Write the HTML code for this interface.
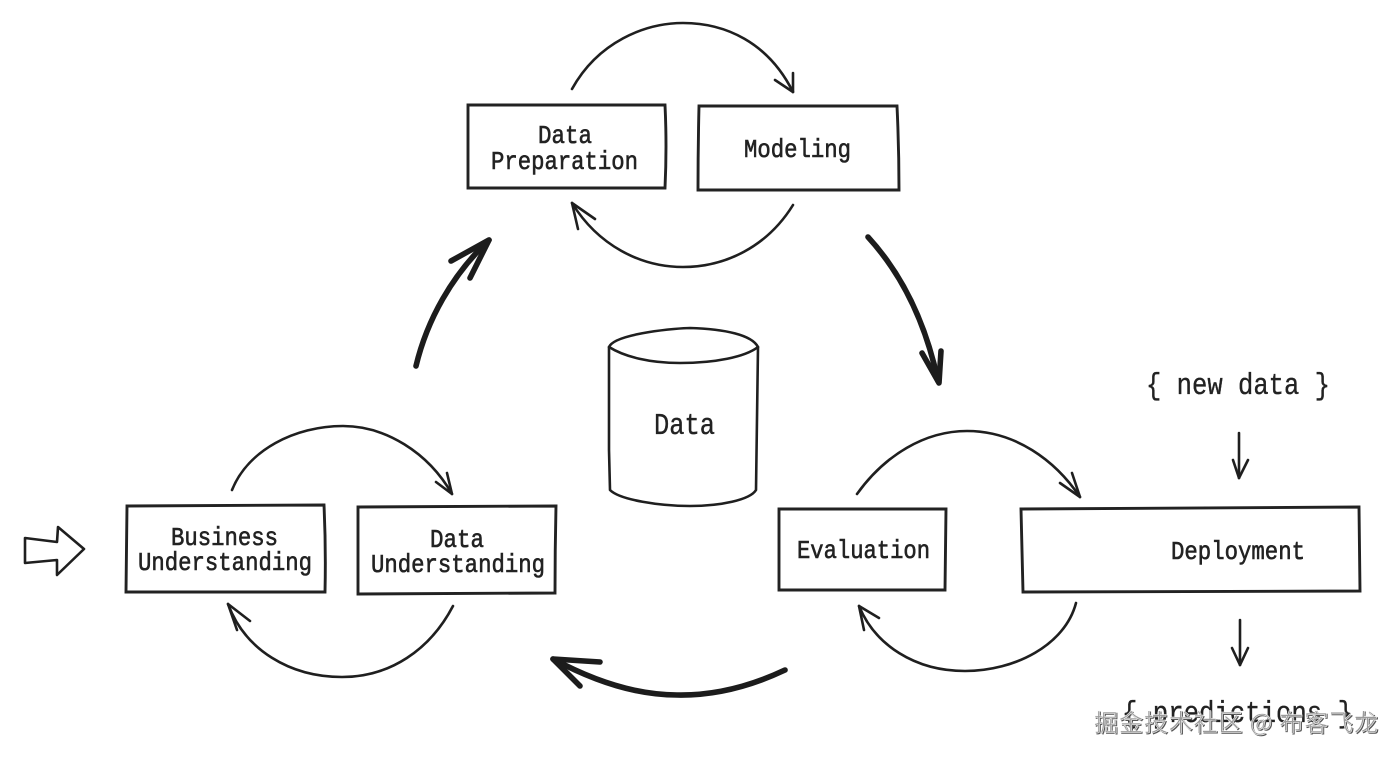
<!DOCTYPE html>
<html>
<head>
<meta charset="utf-8">
<style>
html,body{margin:0;padding:0;background:#fff;width:1400px;height:759px;overflow:hidden}
svg{display:block}
text{font-family:"Liberation Mono","Noto Sans CJK SC",monospace;fill:#222;text-anchor:start}
.t{font-size:26px;stroke:#222;stroke-width:.6px}
.b{font-size:31px;stroke:#222;stroke-width:.35px}
.s{fill:none;stroke:#1f1f1f;stroke-width:2.6;stroke-linecap:round;stroke-linejoin:round}
.r{fill:none;stroke:#222;stroke-width:2.9;stroke-linecap:butt;stroke-linejoin:miter}
.k{fill:none;stroke:#1c1c1c;stroke-width:5.6;stroke-linecap:round;stroke-linejoin:round}
.w{font-family:"Noto Sans CJK SC","WenQuanYi Zen Hei",sans-serif;font-size:24px;fill:#9a9a9a;stroke:#fff;stroke-width:.5px;filter:drop-shadow(1px 1px 0 #555)}
</style>
</head>
<body>
<svg width="1400" height="759" viewBox="0 0 1400 759" xmlns="http://www.w3.org/2000/svg">
<rect width="1400" height="759" fill="#fff"/>

<!-- boxes -->
<path class="r" d="M468 105L665 105Q667 146 665 188L468 188Z"/>
<path class="r" d="M699 106L897 106Q899 148 899 190L698 190Q698 148 699 106Z"/>
<path class="r" d="M127 506L324 505Q326 548 325 592L126 592Z"/>
<path class="r" d="M358 507L556 506Q555 550 555 593L358 594Z"/>
<path class="r" d="M779 509L946 509L945 590L779 590Z"/>
<path class="r" d="M1021 509L1359 507L1360 591L1023 592Z"/>

<!-- cylinder -->
<path class="s" d="M609 347C615 333 680 328 690 328C725 329 752 335 758 347C745 357 715 363 680 363C650 363 625 357 609 347Z"/>
<path class="s" d="M609 347L609 450L610 490C620 500 660 506 690 506C720 506 750 500 756 490L758 347"/>

<!-- thin loops -->
<path class="s" d="M572 89C598 42 645 23 683 23C725 23 768 42 793 92"/>
<path class="s" d="M775 80L793 92L793 73"/>
<path class="s" d="M793 205C767 247 725 267 683 267C640 267 598 245 572 203"/>
<path class="s" d="M595 219L572 203L578 229"/>

<path class="s" d="M232 490C248 450 295 426 343 426C385 426 428 452 452 494"/>
<path class="s" d="M436 482L452 494L447 473"/>
<path class="s" d="M453 606C430 650 390 677 342 677C290 677 245 650 228 604"/>
<path class="s" d="M250 621L228 604L237 630"/>

<path class="s" d="M857 494C885 455 925 431 967 431C1015 431 1055 460 1080 497"/>
<path class="s" d="M1060 483L1080 497L1072 473"/>
<path class="s" d="M1076 603C1065 645 1015 671 965 671C915 671 875 645 859 606"/>
<path class="s" d="M879 618L859 606L864 630"/>

<!-- thick arrows -->
<path class="k" d="M416 366C427 320 452 275 489 240"/>
<path class="k" d="M451 261L489 240L470 278"/>
<path class="k" d="M868 237C900 272 925 320 938 381"/>
<path class="k" d="M922 353L939 383L941 351"/>
<path class="k" d="M785 670Q730 696 677 695Q620 695 553 659"/>
<path class="k" d="M600 662L553 659L580 686"/>

<!-- thin straight arrows -->
<path class="s" d="M1239 433L1239 478"/>
<path class="s" d="M1233 460L1239 478L1248 460"/>
<path class="s" d="M1240 620L1240 665"/>
<path class="s" d="M1232 648L1240 665L1248 648"/>

<!-- hollow arrow -->
<path class="s" d="M25 538L57 542L58 527L84 549L57 575L57 560L25 563Z"/>

<!-- labels -->
<text class="t" x="538" y="143" textLength="54" lengthAdjust="spacingAndGlyphs">Data</text>
<text class="t" x="491" y="169" textLength="147" lengthAdjust="spacingAndGlyphs">Preparation</text>
<text class="t" x="744" y="157" textLength="107" lengthAdjust="spacingAndGlyphs">Modeling</text>
<text class="t" x="171" y="545" textLength="107" lengthAdjust="spacingAndGlyphs">Business</text>
<text class="t" x="138" y="570" textLength="174" lengthAdjust="spacingAndGlyphs">Understanding</text>
<text class="t" x="430" y="547" textLength="54" lengthAdjust="spacingAndGlyphs">Data</text>
<text class="t" x="371" y="572" textLength="174" lengthAdjust="spacingAndGlyphs">Understanding</text>
<text class="t" x="797" y="558" textLength="133" lengthAdjust="spacingAndGlyphs">Evaluation</text>
<text class="t" x="1171" y="559" textLength="134" lengthAdjust="spacingAndGlyphs">Deployment</text>
<text class="b" x="654" y="434" textLength="61" lengthAdjust="spacingAndGlyphs">Data</text>
<text class="b" x="1146" y="394" textLength="184" lengthAdjust="spacingAndGlyphs">{ new data }</text>
<text class="b" x="1122" y="722" textLength="231" lengthAdjust="spacingAndGlyphs">{ predictions }</text>

<!-- watermark -->
<text class="w" x="1094" y="731" textLength="284">掘金技术社区 @ 布客飞龙</text>
</svg>
</body>
</html>
